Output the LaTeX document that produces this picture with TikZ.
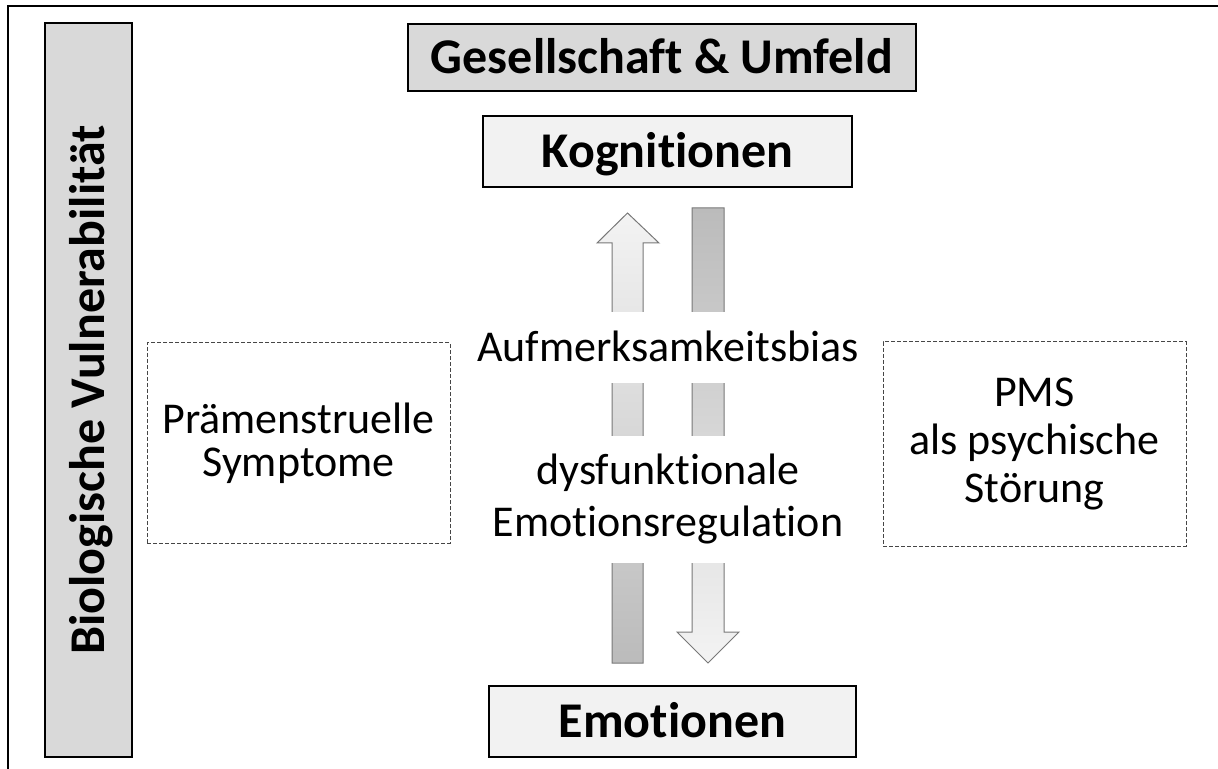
\documentclass[tikz,border=0pt]{standalone}
\usepackage{fontspec}
\setmainfont{Carlito}[Ligatures=NoCommon]
\usepackage{xcolor}

\definecolor{boxgray}{RGB}{217,217,217}
\definecolor{boxlight}{RGB}{242,242,242}
\definecolor{shadedark}{RGB}{187,187,187}
\definecolor{shadelight}{RGB}{243,243,243}
\definecolor{arrowline}{RGB}{120,120,120}
\definecolor{dashline}{RGB}{70,70,70}

\begin{document}
\begin{tikzpicture}[x=0.5pt,y=-0.5pt,
  boldbox/.style={draw=black, line width=1.3pt, inner sep=0pt, text height=16pt, text depth=0pt, font=\fontsize{25}{30}\selectfont\bfseries},
  dashbox/.style={draw=dashline, dash pattern=on 2pt off 1pt, line width=0.5pt, inner sep=0pt, align=center, minimum width=151.5pt},
  midtext/.style={fill=white, inner sep=0pt, align=center},
  blockarrow/.style={draw=arrowline, line width=0.5pt}]
\useasboundingbox (0,0) rectangle (1218,769);
\clip (0,0) rectangle (1218,769);

%Shape: Frame
\draw [line width=1pt] (8,6) rectangle (1240,790);

%Shape: Block Arrow (up)
\path [blockarrow, bottom color=shadedark, top color=shadelight] (612,663) -- (612,243) -- (597,243) -- (627.5,213) -- (659,243) -- (643,243) -- (643,663) -- cycle;
%Shape: Block Arrow (down)
\path [blockarrow, top color=shadedark, bottom color=shadelight] (692,208) -- (724,208) -- (724,632) -- (739,632) -- (708,663) -- (677,632) -- (692,632) -- cycle;

% Boxes
\node (umfeld) at (662,57.5) [boldbox, fill=boxgray, minimum width=254pt, minimum height=33.5pt] {Gesellschaft \& Umfeld};
\node (kogn) at (667.5,151.5) [boldbox, fill=boxlight, minimum width=184.5pt, minimum height=35.5pt] {Kognitionen};
\node (emo) at (672.5,721.5) [boldbox, fill=boxlight, minimum width=183.5pt, minimum height=35.5pt] {Emotionen};
\node (bio) at (88.5,390) [boldbox, fill=boxgray, rotate=90, minimum width=367pt, minimum height=43.5pt] {Biologische Vulnerabilität};

% Text Node
\node (bias) at (668,347.5) [midtext, text height=14pt, text depth=0pt, minimum height=35.5pt, font=\fontsize{22}{26}\selectfont] {Aufmerksamkeitsbias};
% Text Node
\node (regul) at (668,499.5) [midtext, minimum height=63.5pt, font=\fontsize{22}{26}\selectfont] {dysfunktionale\\Emotionsregulation};

% Dashed boxes
\node (praem) at (298.5,443) [dashbox, minimum height=100pt, font=\fontsize{22}{21.5}\selectfont] {Prämenstruelle\\Symptome};
\node (pms) at (1034.5,444) [dashbox, minimum height=102pt, font=\fontsize{22}{24}\selectfont] {PMS\\als psychische\\Störung};

\end{tikzpicture}
\end{document}
